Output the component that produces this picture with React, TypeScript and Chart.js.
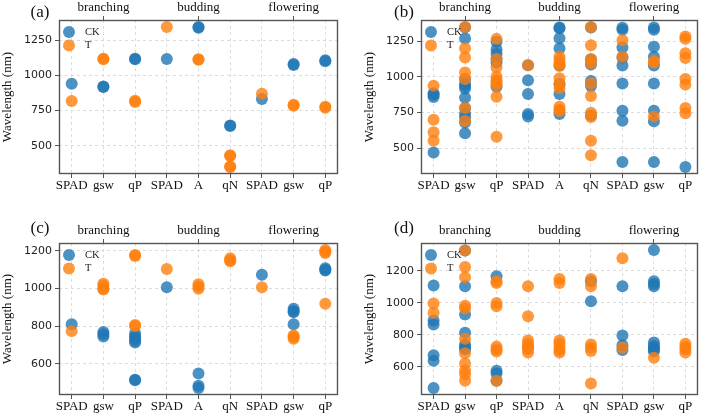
import React, { useEffect, useRef } from 'react';
import { Chart, registerables } from 'chart.js';

Chart.register(...registerables);

// ---------- data ----------
const categories = ['SPAD', 'gsw', 'qP', 'SPAD', 'A', 'qN', 'SPAD', 'gsw', 'qP'];
const stages = ['branching', 'budding', 'flowering'];
const stagePositions = [1, 4, 7];
const yTicksAB = [500, 750, 1000, 1250];
const yTicksCD = [600, 800, 1000, 1200];

// panel (a)
const aCK = [[942], [918, 922], [1115, 1120], [1118], [1340, 1345], [640, 645], [832], [1075, 1082], [1102, 1108]];
const aT = [[818], [1115, 1120], [812, 820], [1345], [1112, 1116], [432, 428, 352, 349], [870], [785, 792], [770, 778]];

// panel (b)
const bCK = [
  [885, 875, 858, 470],
  [1345, 1267, 985, 950, 935, 918, 853, 782, 740, 715, 680, 605],
  [1245, 1190, 1160, 1125, 1100, 930],
  [1080, 975, 880, 740, 722],
  [1345, 1340, 1270, 1200, 1080, 950, 880, 740],
  [1345, 1120, 1085, 970, 935, 730],
  [1343, 1328, 1205, 1135, 1078, 953, 763, 693, 404],
  [1345, 1328, 1210, 1140, 1078, 953, 763, 688, 404],
  [369],
];
const bT = [
  [938, 700, 612, 553],
  [1348, 1200, 1135, 1030, 985, 782, 690],
  [1265, 1125, 1065, 1000, 975, 960, 940, 860, 580],
  [1080],
  [1140, 1118, 1095, 1075, 990, 945, 920, 790, 770, 760],
  [1348, 1220, 1125, 1095, 955, 865, 748, 718, 552, 451],
  [1255, 1140],
  [1110, 1100, 723],
  [1282, 1265, 1165, 1132, 985, 945, 782, 745],
];

// panel (c)
const cCK = [
  [809],
  [768, 756, 745],
  [760, 745, 735, 722, 712, 515, 512],
  [1007],
  [547, 482, 470],
  [],
  [1073],
  [892, 880, 874, 809],
  [1108, 1100, 1096],
];
const cT = [
  [773],
  [1025, 1015, 998, 995],
  [1178, 1172, 806, 800],
  [1104],
  [1022, 1010, 998],
  [1160, 1150, 1145],
  [1007],
  [750, 742, 733],
  [1205, 1195, 1188, 919],
];

// panel (d)
const dCK = [
  [1108, 890, 865, 673, 638, 468],
  [1327, 1104, 928, 814, 741, 725, 710],
  [1166, 576, 559, 514],
  [725],
  [],
  [1135, 1010],
  [1104, 797, 735, 706],
  [1331, 1135, 1118, 1104, 752, 731, 720, 710, 696],
  [],
];
const dT = [
  [996, 938],
  [1327, 1224, 1161, 983, 965, 776, 685, 621, 576, 555, 514],
  [1135, 1124, 1000, 979, 727, 710, 696, 514],
  [1104, 917, 766, 745, 725, 710, 690],
  [1149, 1124, 766, 745, 725, 705, 690],
  [1149, 1104, 741, 720, 700, 497],
  [1279, 720],
  [658],
  [745, 727, 710, 690],
];

// ---------- styling / layout ----------
const BLUE = 'rgba(31,119,180,0.8)';
const ORANGE = 'rgba(255,127,14,0.8)';
const SERIF = "'Liberation Serif', 'Times New Roman', serif";
const SANS = "'DejaVu Sans', sans-serif";

type Panel = {
  label: string;
  ck: number[][];
  t: number[][];
  yTicks: number[];
  left: number;
  top: number;
  width: number;
  height: number;
  yWidth: number;
  topH: number;
  bottomH: number;
  padRight: number;
  titleDx: number;
  titleDy: number;
  yTitleX: number;
};

const panels: Panel[] = [
  { label: '(a)', ck: aCK, t: aT, yTicks: yTicksAB, left: 0, top: 0, width: 352, height: 208, yWidth: 59, topH: 20, bottomH: 34, padRight: 14, titleDx: -19, titleDy: -7, yTitleX: 8 },
  { label: '(b)', ck: bCK, t: bT, yTicks: yTicksAB, left: 352, top: 0, width: 352, height: 208, yWidth: 69, topH: 20, bottomH: 34, padRight: 5, titleDx: -17, titleDy: -7, yTitleX: 18 },
  { label: '(c)', ck: cCK, t: cT, yTicks: yTicksCD, left: 0, top: 208, width: 352, height: 209, yWidth: 59, topH: 35, bottomH: 22, padRight: 14, titleDx: -19, titleDy: -14, yTitleX: 8 },
  { label: '(d)', ck: dCK, t: dT, yTicks: yTicksCD, left: 352, top: 208, width: 352, height: 209, yWidth: 69, topH: 35, bottomH: 22, padRight: 5, titleDx: -17, titleDy: -14, yTitleX: 18 },
];

const toPoints = (vals: number[][]) => vals.flatMap((col, i) => col.map((v) => ({ x: i, y: v })));

function PanelChart({ p }: { p: Panel }) {
  const ref = useRef<HTMLCanvasElement | null>(null);
  useEffect(() => {
    if (!ref.current) return;
    const all = [...p.ck.flat(), ...p.t.flat()];
    const mn = Math.min(...all);
    const mx = Math.max(...all);
    const m = (mx - mn) * 0.05;
    const xMin = -0.4;
    const xMax = categories.length - 1 + 0.4;

    const decor = {
      id: 'decor',
      afterDraw(chart: any) {
        const { ctx, chartArea: ca } = chart;
        ctx.save();
        // frame
        ctx.strokeStyle = '#555';
        ctx.lineWidth = 1.4;
        ctx.setLineDash([]);
        ctx.strokeRect(ca.left + 0.5, ca.top + 0.5, ca.right - ca.left - 1, ca.bottom - ca.top - 1);
        // panel label
        ctx.fillStyle = '#111';
        ctx.font = `17px ${SERIF}`;
        ctx.textAlign = 'center';
        ctx.textBaseline = 'middle';
        ctx.fillText(p.label, ca.left + p.titleDx, ca.top + p.titleDy);
        // y axis title
        ctx.save();
        ctx.translate(p.yTitleX, (ca.top + ca.bottom) / 2);
        ctx.rotate(-Math.PI / 2);
        ctx.font = `13px ${SERIF}`;
        ctx.fillText('Wavelength (nm)', 0, 0);
        ctx.restore();
        // legend
        const items = [
          { text: 'CK', color: BLUE },
          { text: 'T', color: ORANGE },
        ];
        items.forEach((it, i) => {
          const cy = ca.top + 12 + i * 13.5;
          ctx.beginPath();
          ctx.fillStyle = it.color;
          ctx.arc(ca.left + 10, cy, 6, 0, Math.PI * 2);
          ctx.fill();
          ctx.fillStyle = '#222';
          ctx.font = `10.5px ${SERIF}`;
          ctx.textAlign = 'left';
          ctx.fillText(it.text, ca.left + 26, cy);
        });
        ctx.restore();
      },
    };

    const chart = new Chart(ref.current, {
      type: 'scatter',
      data: {
        datasets: [
          { label: 'T', data: toPoints(p.t), backgroundColor: ORANGE, borderWidth: 0, pointRadius: 6, pointHoverRadius: 6 },
          { label: 'CK', data: toPoints(p.ck), backgroundColor: BLUE, borderWidth: 0, pointRadius: 6, pointHoverRadius: 6 },
        ],
      },
      options: {
        animation: false,
        responsive: false,
        devicePixelRatio: 1,
        layout: { padding: { left: 0, right: p.padRight, top: 0, bottom: 0 } },
        plugins: { legend: { display: false }, tooltip: { enabled: false } },
        scales: {
          x: {
            type: 'linear',
            position: 'bottom',
            min: xMin,
            max: xMax,
            afterBuildTicks: (s: any) => {
              s.ticks = categories.map((_, i) => ({ value: i }));
            },
            afterFit: (s: any) => {
              s.height = p.bottomH;
            },
            ticks: {
              autoSkip: false,
              maxRotation: 0,
              padding: 0,
              color: '#111',
              font: { family: SERIF, size: 13 },
              callback: (v: any) => categories[Math.round(Number(v))] ?? '',
            },
            grid: {
              color: '#d4d4d4',
              lineWidth: 0.8,
              tickColor: '#555',
              tickLength: 4,
              tickWidth: 1,
              tickBorderDash: [],
            },
            border: { display: false, dash: [3, 3] },
          },
          x2: {
            type: 'linear',
            position: 'top',
            min: xMin,
            max: xMax,
            afterBuildTicks: (s: any) => {
              s.ticks = stagePositions.map((v) => ({ value: v }));
            },
            afterFit: (s: any) => {
              s.height = p.topH;
            },
            ticks: {
              autoSkip: false,
              maxRotation: 0,
              padding: 1,
              color: '#111',
              font: { family: SERIF, size: 13 },
              callback: (v: any) => {
                const k = stagePositions.indexOf(Math.round(Number(v)));
                return k >= 0 ? stages[k] : '';
              },
            },
            grid: {
              drawOnChartArea: false,
              tickColor: '#555',
              tickLength: 4,
              tickWidth: 1,
            },
            border: { display: false },
          },
          y: {
            type: 'linear',
            position: 'left',
            min: mn - m,
            max: mx + m,
            afterBuildTicks: (s: any) => {
              s.ticks = p.yTicks.map((v) => ({ value: v }));
            },
            afterFit: (s: any) => {
              s.width = p.yWidth;
            },
            ticks: {
              padding: 3,
              color: '#222',
              font: { family: SANS, size: 11 },
              callback: (v: any) => String(v),
            },
            grid: {
              color: '#d4d4d4',
              lineWidth: 0.8,
              tickColor: '#555',
              tickLength: 4,
              tickWidth: 1,
              tickBorderDash: [],
            },
            border: { display: false, dash: [3, 3] },
          },
        },
      },
      plugins: [decor],
    } as any);
    return () => chart.destroy();
  }, [p]);

  return (
    <div style={{ position: 'absolute', left: p.left, top: p.top, width: p.width, height: p.height }}>
      <canvas ref={ref} width={p.width} height={p.height} style={{ width: p.width, height: p.height, display: 'block' }} />
    </div>
  );
}

export default function App() {
  return (
    <div style={{ position: 'absolute', left: 0, top: 0, width: 704, height: 417, background: '#fff', overflow: 'hidden' }}>
      {panels.map((p) => (
        <PanelChart key={p.label} p={p} />
      ))}
    </div>
  );
}
